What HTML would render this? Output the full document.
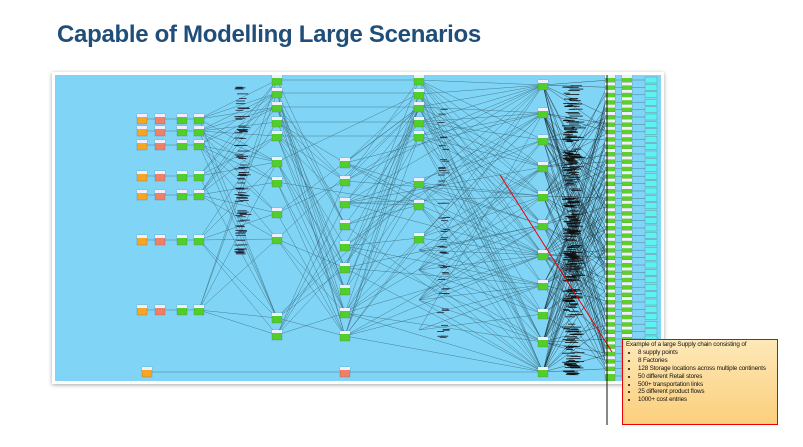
<!DOCTYPE html>
<html><head><meta charset="utf-8"><style>
body{margin:0;width:803px;height:447px;background:#fff;position:relative;overflow:hidden;font-family:"Liberation Sans",sans-serif}
h1{position:absolute;left:57px;top:21px;margin:0;font-size:24px;font-weight:bold;color:#1f4e79;letter-spacing:-0.3px}
#frame{position:absolute;left:52px;top:72px;width:612px;height:312px;background:#fff;box-shadow:0 1px 4px rgba(0,0,0,.35)}
#panel{position:absolute;left:55px;top:75px}
#box{position:absolute;left:622px;top:339px;width:156px;height:86px;border:1.5px solid #e00;background:linear-gradient(#fde8b8,#fccf7c);font-size:6.3px;line-height:7.9px;color:#111;padding:1px 3px;box-sizing:border-box;letter-spacing:-0.15px;white-space:nowrap}
#box ul{margin:0;padding-left:12px}
</style></head><body>
<h1>Capable of Modelling Large Scenarios</h1>
<div id="frame"></div>
<svg id="panel" width="606" height="306" viewBox="55 75 606 306"><rect x="55" y="75" width="606" height="306" fill="#80d5f6"/><g id="g"></g></svg>
<svg style="position:absolute;left:0;top:0" width="803" height="447"><line x1="500" y1="175" x2="612" y2="352" stroke="#e00" stroke-width="1"/><line x1="607" y1="75" x2="607" y2="425" stroke="#111" stroke-width="1"/></svg>
<div id="box">Example of a large Supply chain consisting of
<ul><li>8 supply points</li><li>8 Factories</li><li>128 Storage locations across multiple continents</li><li>50 different Retail stores</li><li>500+ transportation links</li><li>25 different product flows</li><li>1000+ cost entries</li></ul></div>
<script>
var g=document.getElementById('g'),s='';
function L(a,b,c,d,col,w){s+='<line x1="'+a+'" y1="'+b+'" x2="'+c+'" y2="'+d+'" stroke="'+(col||'#3a6878')+'" stroke-width="'+(w||0.4)+'"/>';}
function N(x,y,c){s+='<rect x="'+(x-5)+'" y="'+(y-5)+'" width="10" height="10" fill="'+c+'" stroke="#667" stroke-width="0.3"/><rect x="'+(x-5)+'" y="'+(y-5)+'" width="10" height="3" fill="#eef"/>';}
var A=[119,131,145,176,195,240,310],E=[80,93,107,122,136,162,182,213,239,318,335],F=[163,181,203,225,246,268,290,313,336],G=[80,94,107,122,136,183,205,238],H=[85,113,140,167,196,225,255,285,314,342,372],R=[];
for(var y=80;y<=376;y+=7.4)R.push(y);
var r=1;function rnd(){r=(r*9301+49297)%233280;return r/233280;}
A.forEach(function(y){L(142,y,199,y);E.forEach(function(e){if(rnd()<.6)L(199,y,277,e);});});
E.forEach(function(e){L(277,e,419,e<140?e:G[Math.floor(rnd()*8)]);F.forEach(function(f){if(rnd()<.3)L(277,e,345,f);});});
F.forEach(function(f){G.forEach(function(gg){if(rnd()<.4)L(345,f,419,gg);});H.forEach(function(h){if(rnd()<.3)L(345,f,543,h);});});
G.concat([250,270,300,330]).forEach(function(gg){H.forEach(function(h){if(rnd()<.55)L(419,gg,543,h);});});
H.forEach(function(h){R.forEach(function(q){if(rnd()<.35)L(543,h,610,q,'#1a2a30',0.35);});});
R.forEach(function(q){L(610,q,652,q);});
L(147,372,345,372);L(345,372,543,372);
for(var i=0;i<300;i++){var yy=85+rnd()*290;s+='<rect x="'+(562+rnd()*10)+'" y="'+yy+'" width="'+(6+rnd()*8)+'" height="0.8" fill="#111"/>';}
for(var i=0;i<90;i++){var yy=85+rnd()*170;s+='<rect x="'+(234+rnd()*6)+'" y="'+yy+'" width="'+(6+rnd()*6)+'" height="0.8" fill="#223"/>';}
for(var i=0;i<50;i++){var yy=100+rnd()*240;s+='<rect x="'+(437+rnd()*6)+'" y="'+yy+'" width="7" height="0.8" fill="#223"/>';}
A.forEach(function(y){N(142,y,'#f6a623');N(160,y,'#ef7f66');N(182,y,'#4fcf2a');N(199,y,'#4fcf2a');});
N(147,372,'#f6a623');N(345,372,'#ef7f66');
E.forEach(function(y){N(277,y,'#4fcf2a');});F.forEach(function(y){N(345,y,'#4fcf2a');});G.forEach(function(y){N(419,y,'#4fcf2a');});H.forEach(function(y){N(543,y,'#4fcf2a');});
R.forEach(function(y){N(610,y,'#5ed02a');N(627,y,'#5ed02a');s+='<rect x="645" y="'+(y-3)+'" width="12" height="6" fill="#5ff0f0" stroke="#667" stroke-width="0.3"/>';});
g.innerHTML=s;
</script>
</body></html>
